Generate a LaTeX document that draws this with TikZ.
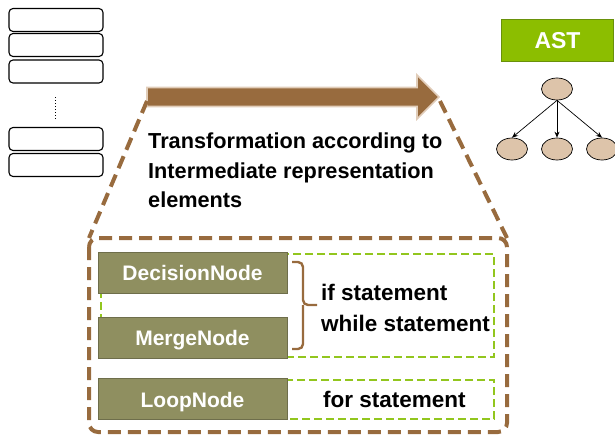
\documentclass[tikz,border=0pt]{standalone}
\usepackage{fontspec}
\setmainfont{Liberation Sans}
\usetikzlibrary{arrows.meta,shapes.geometric}

\definecolor{brownc}{RGB}{152,107,62}
\definecolor{tanedge}{RGB}{225,205,185}
\definecolor{olivec}{RGB}{143,143,96}
\definecolor{olivedge}{RGB}{110,110,75}
\definecolor{limec}{RGB}{146,198,30}
\definecolor{astgreen}{RGB}{140,190,0}
\definecolor{astedge}{RGB}{105,145,10}
\definecolor{nodefill}{RGB}{221,196,170}

\tikzset{
  slot/.style={draw=black, line width=1.1pt, rounded corners=4pt, minimum width=94pt, minimum height=23pt, inner sep=0pt},
  irbox/.style={fill=olivec, draw=olivedge, line width=0.6pt, minimum width=189pt, minimum height=41pt, inner sep=0pt,
    text=white, font=\fontsize{21}{21}\selectfont\bfseries, text height=16pt, text depth=0pt},
  limedash/.style={draw=limec, line width=2.6pt, dash pattern=on 8pt off 4pt},
  browndash/.style={draw=brownc, line width=4pt, dash pattern=on 13pt off 7pt},
  treenode/.style={ellipse, draw=black, line width=0.7pt, fill=nodefill, minimum width=31pt, minimum height=22pt, inner sep=0pt},
  treearrow/.style={draw=black, line width=0.7pt, -{Stealth[length=6pt,width=5pt]}},
  bigtext/.style={anchor=base west, inner sep=0pt, font=\fontsize{21.7}{26}\selectfont\bfseries},
  stmt/.style={anchor=base west, inner sep=0pt, font=\fontsize{22.5}{26}\selectfont\bfseries}
}

\begin{document}
\begin{tikzpicture}[x=1pt,y=-1pt]
\useasboundingbox (0,0) rectangle (615,437);

% list of slots on the left
\node[slot] (s1) at (56,20) {};
\node[slot] (s2) at (56,45) {};
\node[slot] (s3) at (56,71.5) {};
\node[slot] (s4) at (56,139) {};
\node[slot] (s5) at (56,165) {};
\coordinate (d1) at (55,97);
\coordinate (d2) at (55,120);
\draw[line width=1pt, dotted] (d1) -- (d2);

% transformation arrow
\coordinate (atail) at (147,97);
\coordinate (ahead) at (439,97);
\filldraw[fill=brownc, draw=tanedge, line width=1.6pt]
  (147,87.5) -- (417,87.5) -- (417,75) -- (ahead) -- (417,119) -- (417,106.5) -- (147,106.5) -- cycle;

% zoom-out outline of the intermediate representation panel
\draw[browndash, rounded corners=9pt] (89,238) rectangle (507,432);
\coordinate (pl) at (89,238);
\coordinate (pr) at (507,238);
\draw[browndash] (147,101) -- (pl);
\draw[browndash] (440,101) -- (pr);

% caption
\node[bigtext] (t1) at (148,148) {Transformation according to};
\node[bigtext] (t2) at (148,178) {Intermediate representation};
\node[bigtext] (t3) at (148,207) {elements};

% AST
\node[fill=astgreen, draw=astedge, line width=0.6pt, minimum width=112pt, minimum height=42pt, inner sep=0pt,
      text=white, font=\fontsize{23}{23}\selectfont\bfseries] (ast) at (557.5,40.5) {AST};
\node[treenode] (r) at (557,89) {};
\node[treenode] (c1) at (512,149) {};
\node[treenode] (c2) at (557,149) {};
\node[treenode] (c3) at (602,149) {};
\draw[treearrow] (r.south) -- (c1.north);
\draw[treearrow] (r.south) -- (c2.north);
\draw[treearrow] (r.south) -- (c3.north);

% groups of statements
\draw[limedash] (101,254) rectangle (494,357);
\draw[limedash] (101,380) rectangle (494,419);

\node[irbox] (dn) at (192.5,272.5) {DecisionNode};
\node[irbox] (mn) at (192.5,337.5) {MergeNode};
\node[irbox] (ln) at (192.5,399) {LoopNode};

% brace grouping the two nodes
\draw[brownc, line width=2.4pt, rounded corners=5pt] (292,262) -- (303,262) -- (303,305) -- (317,305);
\draw[brownc, line width=2.4pt, rounded corners=5pt] (292,349) -- (303,349) -- (303,305);

\node[stmt] (ifs) at (321,300) {if statement};
\node[stmt] (whs) at (321,331) {while statement};
\node[stmt] (fors) at (323,407) {for statement};
\end{tikzpicture}
\end{document}
